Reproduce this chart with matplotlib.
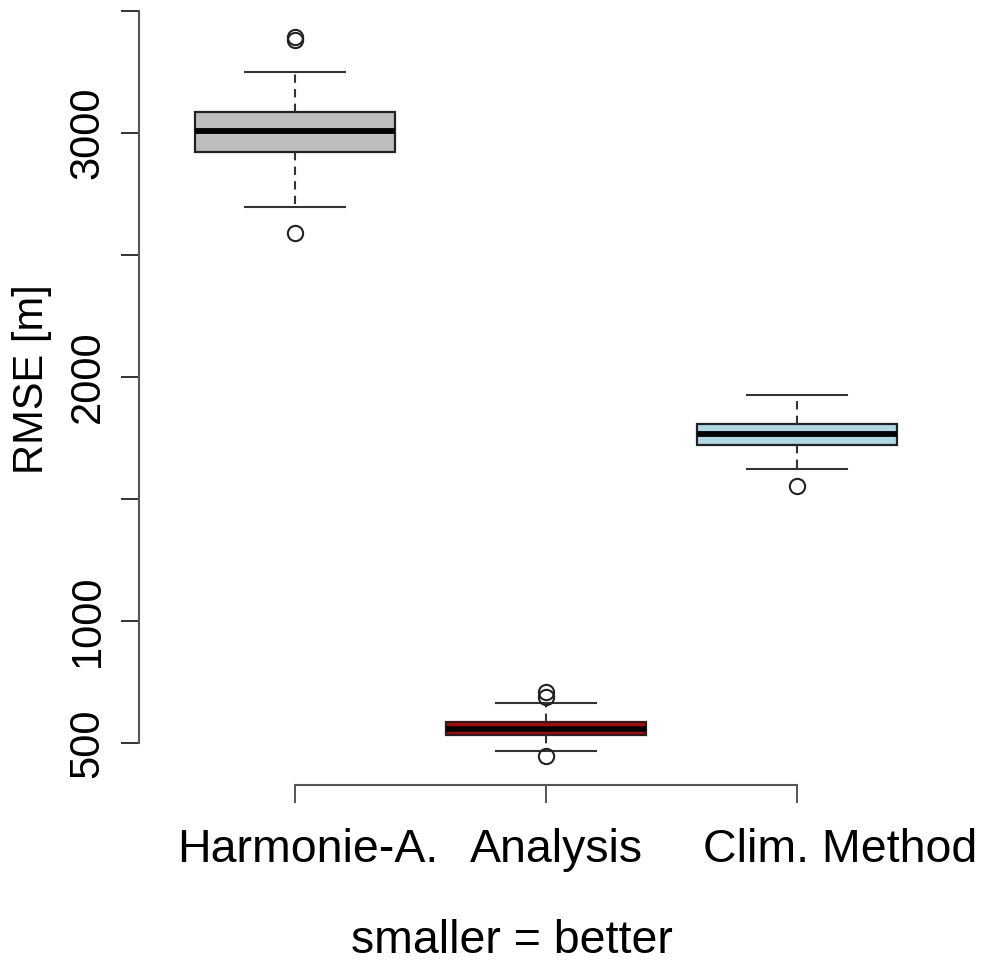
import matplotlib
matplotlib.use("Agg")
import matplotlib.pyplot as plt
from matplotlib import transforms

plt.rcParams['font.family'] = ['Liberation Sans', 'DejaVu Sans']

# box statistics (RMSE in m)
labels = ["Harmonie-A.", "Analysis", "Clim. Method"]
q1 = [2923, 533, 1721]
med = [3008, 557, 1765]
q3 = [3087, 588, 1806]
whislo = [2697, 467, 1623]
whishi = [3251, 663, 1926]
fliers = [[3381, 3393, 2592], [710, 689, 447], [1555]]
colors = ["#BEBEBE", "#C00000", "#ADD8E6"]

yticks = [500, 1000, 1500, 2000, 2500, 3000, 3500]
ytick_labels = ["500", "1000", "", "2000", "", "3000", ""]

W, H = 983, 964
fig = plt.figure(figsize=(W / 100, H / 100), dpi=100)
ax = fig.add_axes([169.5 / W, 1 - 784.5 / H, (922.5 - 169.5) / W, (784.5 - 8) / H])

stats = []
for i in range(len(labels)):
    stats.append(dict(label=labels[i], q1=q1[i], med=med[i], q3=q3[i],
                      whislo=whislo[i], whishi=whishi[i], fliers=fliers[i]))

bp = ax.bxp(stats, positions=[1, 2, 3], widths=0.8, capwidths=0.4,
            patch_artist=True, showfliers=True,
            boxprops=dict(edgecolor="#222222", linewidth=1.6),
            medianprops=dict(color="black", linewidth=4.2, solid_capstyle="butt"),
            whiskerprops=dict(color="#333333", linewidth=1.5, linestyle=(0, (4, 3))),
            capprops=dict(color="#333333", linewidth=1.5),
            flierprops=dict(marker="o", markersize=11, markerfacecolor="none",
                            markeredgecolor="#222222", markeredgewidth=1.5))
for patch, c in zip(bp["boxes"], colors):
    patch.set_facecolor(c)

ax.set_xlim(0.5, 3.5)
ax.set_ylim(330, 3512)

for side in ["top", "right"]:
    ax.spines[side].set_visible(False)
ax.spines["left"].set_position(("outward", 22))
ax.spines["left"].set_bounds(500, 3500)
ax.spines["bottom"].set_bounds(1, 3)
for side in ["left", "bottom"]:
    ax.spines[side].set_color("#555555")
    ax.spines[side].set_linewidth(1.5)

ax.set_yticks(yticks)
ax.set_yticklabels(ytick_labels, rotation=90, va="center", fontsize=30)
ax.tick_params(axis="y", length=12.7, width=1.4, color="#333333", pad=10)
ax.set_xticks([1, 2, 3])
ax.set_xticklabels([])
ax.tick_params(axis="x", length=12.7, width=1.4, color="#555555")

# category names sit a little right of their ticks in the original
shift = [0.05, 0.04, 0.17]
trans = transforms.blended_transform_factory(ax.transData, fig.transFigure)
for i, lab in enumerate(labels):
    ax.text(i + 1 + shift[i], 1 - 862 / H, lab, transform=trans,
            ha="center", va="baseline", fontsize=33.5)

fig.text(512 / W, 1 - 953 / H, "smaller = better", ha="center", va="baseline",
         fontsize=33.5)
fig.text(43 / W, 1 - 379 / H, "RMSE [m]", rotation=90, rotation_mode="anchor",
         ha="center", va="baseline", fontsize=30)

fig.savefig("out.png", dpi=100)
